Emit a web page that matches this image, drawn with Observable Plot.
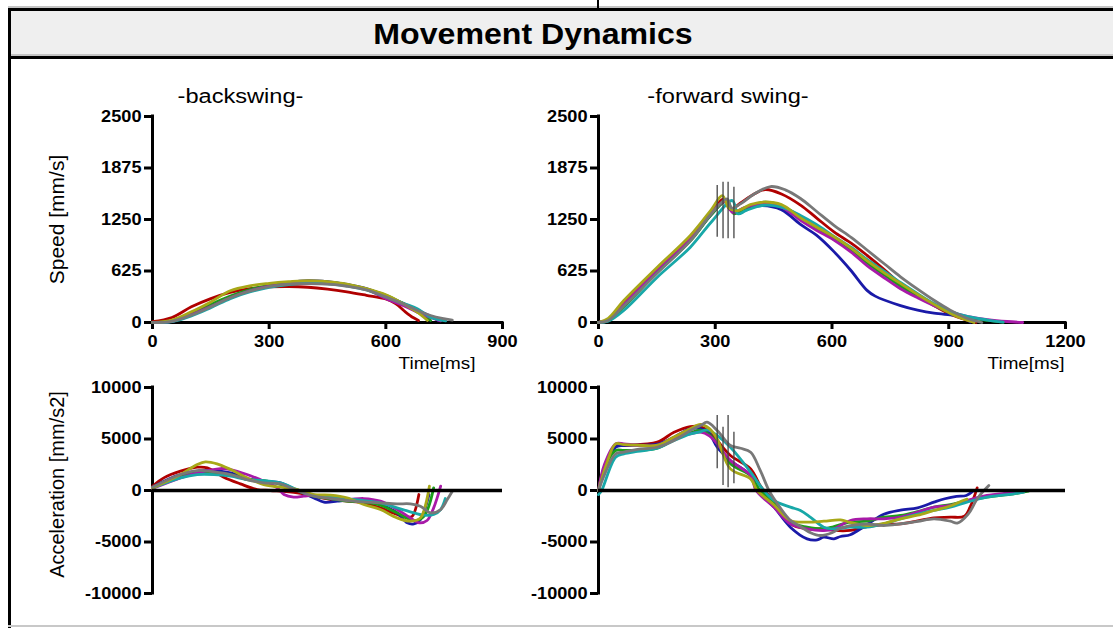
<!DOCTYPE html>
<html>
<head>
<meta charset="utf-8">
<script src="https://cdn.jsdelivr.net/npm/d3@7"></script>
<script src="https://cdn.jsdelivr.net/npm/@observablehq/plot@0.6"></script>
<style>
  body { margin: 0; background: #fff; }
  #root { position: relative; width: 1113px; height: 628px; overflow: hidden; font-family: "Liberation Sans", Arial, sans-serif; background: #fff; }
  .bar { position: absolute; left: 8px; top: 8px; width: 1120px; height: 51px; background: #efefef; border-top: 3px solid #000; border-bottom: 3px solid #000; box-sizing: border-box; }
  .barShadeTop { position: absolute; left: 8px; top: 6px; width: 1120px; height: 2px; background: #c4c4c4; }
  .barShadeBot { position: absolute; left: 8px; top: 54px; width: 1120px; height: 2px; background: #c4c4c4; }
  .title { position: absolute; left: 0; top: 8px; width: 1066px; height: 51px; line-height: 51px; text-align: center; font-weight: bold; font-size: 30px; color: #000; transform: scaleX(1.07); transform-origin: 533px 50%; }
  .frameL { position: absolute; left: 8px; top: 8px; width: 3px; height: 620px; background: #000; }
  .topTick { position: absolute; left: 597px; top: 0; width: 2px; height: 8px; background: #000; }
  .bottomLine { position: absolute; left: 8px; top: 625px; width: 1110px; height: 2px; background: #c8c8c8; }
  .panel { position: absolute; }
</style>
</head>
<body>
<div id="root">
  <div class="barShadeTop"></div>
  <div class="bar"></div>
  <div class="barShadeBot"></div>
  <div class="title">Movement Dynamics</div>
  <div class="frameL"></div>
  <div class="topTick"></div>
  <div class="bottomLine"></div>
  <div id="p1" class="panel" style="left:0px;top:60px"></div>
  <div id="p2" class="panel" style="left:510px;top:60px"></div>
  <div id="p3" class="panel" style="left:0px;top:375px"></div>
  <div id="p4" class="panel" style="left:510px;top:375px"></div>
</div>
<script>
// ---------- data ----------
const seriesNames = ["Trial 1", "Trial 2", "Trial 3", "Trial 4", "Trial 5", "Trial 6", "Trial 7"];
const seriesColors = ["#b00000", "#1a1aa8", "#1a9e1a", "#a81aa8", "#18a8a8", "#a8a818", "#787878"];

const speedTicks = [0, 625, 1250, 1875, 2500];
const accTicks = [-10000, -5000, 0, 5000, 10000];
const backTimeTicks = [0, 300, 600, 900];
const foreTimeTicks = [0, 300, 600, 900, 1200];

// backswing speed [time ms, speed mm/s], one list per trial (same order as seriesNames)
const backSpeed = [
  [[0,10],[50,60],[100,190],[150,290],[200,365],[250,410],[300,432],[350,437],[400,428],[450,405],[500,372],[550,330],[600,285],[625,230],[650,130],[670,60],[684,25]],
  [[0,0],[50,15],[100,100],[150,200],[200,300],[250,385],[300,440],[350,485],[400,508],[450,495],[500,462],[550,410],[600,320],[650,220],[700,110],[735,25]],
  [[0,0],[50,20],[100,110],[150,220],[200,320],[250,400],[300,450],[350,485],[400,500],[450,490],[500,460],[550,405],[600,330],[640,240],[680,130],[715,25]],
  [[0,0],[50,15],[100,95],[150,195],[200,300],[250,385],[300,440],[350,470],[400,488],[450,478],[500,450],[550,400],[600,290],[650,195],[681,126],[715,60],[741,20]],
  [[0,0],[50,10],[100,80],[150,180],[200,290],[250,370],[300,425],[350,460],[400,478],[450,470],[500,445],[550,395],[612,290],[650,225],[681,166],[715,65],[754,20]],
  [[0,0],[50,30],[100,130],[150,250],[200,385],[250,445],[300,475],[350,495],[400,508],[450,495],[500,465],[550,410],[600,335],[640,240],[680,128],[707,25]],
  [[0,0],[50,15],[100,90],[150,190],[200,300],[250,380],[300,435],[350,465],[400,472],[450,465],[500,440],[550,395],[612,287],[650,215],[681,146],[715,85],[745,50],[771,30]]
];

// forward swing speed [time ms, speed mm/s]
const foreSpeed = [
  [[0,0],[25,35],[65,230],[151,640],[236,1020],[290,1340],[322,1500],[338,1370],[365,1450],[400,1560],[429,1614],[470,1560],[519,1425],[560,1270],[605,1100],[650,960],[690,815],[735,640],[776,470],[820,330],[862,205],[904,100],[945,30],[970,0]],
  [[0,0],[25,25],[65,205],[151,620],[236,1000],[290,1310],[325,1465],[345,1345],[375,1385],[420,1420],[470,1370],[519,1190],[560,1060],[605,860],[647,640],[690,390],[711,320],[776,205],[820,150],[862,113],[904,92],[935,75],[955,5]],
  [[0,0],[25,20],[65,190],[151,610],[236,990],[290,1310],[330,1480],[348,1320],[375,1380],[424,1460],[470,1420],[519,1280],[560,1150],[605,1010],[650,870],[690,720],[735,575],[776,440],[820,320],[862,210],[904,120],[950,60],[1000,25],[1040,5]],
  [[0,0],[25,30],[65,220],[151,645],[236,1025],[290,1330],[325,1470],[345,1335],[375,1395],[420,1440],[470,1400],[519,1240],[560,1120],[605,1000],[650,850],[690,690],[735,540],[776,410],[820,300],[862,205],[904,130],[950,70],[1000,35],[1050,12],[1090,0]],
  [[0,0],[25,15],[65,146],[151,550],[236,914],[290,1220],[344,1480],[358,1320],[380,1360],[420,1420],[470,1400],[519,1300],[560,1190],[605,1045],[650,910],[690,765],[735,620],[776,485],[820,350],[862,230],[904,135],[950,70],[1000,30],[1040,5]],
  [[0,0],[25,50],[65,267],[151,671],[236,1056],[290,1370],[318,1540],[335,1390],[355,1355],[390,1430],[425,1462],[470,1430],[519,1270],[560,1160],[605,1040],[650,900],[690,750],[735,600],[776,475],[820,340],[862,220],[904,110],[940,40],[965,0]],
  [[0,0],[25,25],[65,200],[151,600],[236,990],[290,1320],[330,1500],[342,1390],[365,1440],[400,1560],[442,1650],[480,1610],[519,1505],[560,1350],[605,1180],[650,1030],[690,880],[735,710],[776,555],[820,405],[862,270],[904,150],[945,55],[985,0]]
];

// backswing acceleration [time ms, acceleration mm/s2]
const backAcc = [
  [[0,418],[29,1227],[72,1875],[115,2263],[141,2198],[183,1292],[226,645],[269,95],[303,0],[372,-229],[415,-552],[458,-876],[500,-1038],[543,-1200],[586,-1685],[629,-2330],[655,-2591],[668,-2494],[685,-391]],
  [[0,321],[72,1551],[158,1939],[201,1713],[243,1160],[286,904],[329,742],[372,0],[415,-714],[441,-1135],[475,-1038],[500,-941],[543,-1038],[586,-1361],[629,-2170],[655,-3141],[672,-3238],[689,-2818],[711,-391]],
  [[0,257],[72,1389],[132,1713],[201,1551],[243,1066],[286,968],[329,580],[372,0],[415,-552],[458,-779],[500,-1038],[543,-1103],[586,-1426],[629,-2170],[672,-2915],[698,-2494],[723,257]],
  [[0,192],[72,1227],[115,1713],[175,2133],[201,2036],[243,1551],[286,904],[321,257],[338,-391],[363,-649],[389,-552],[415,-455],[458,-714],[500,-876],[543,-779],[586,-1038],[629,-1847],[663,-2656],[685,-3141],[706,-2915],[723,-1685],[741,418]],
  [[0,257],[72,1227],[115,1551],[158,1551],[201,1389],[243,1066],[286,968],[329,742],[372,95],[415,-455],[458,-552],[500,-779],[543,-973],[586,-1200],[629,-1685],[672,-2170],[698,-2397],[723,-2332],[741,-1847],[753,-779]],
  [[0,257],[29,742],[72,1551],[115,2522],[136,2781],[166,2587],[201,2036],[243,1227],[286,580],[329,320],[372,95],[415,-391],[458,-455],[500,-714],[543,-1361],[586,-1847],[629,-2656],[663,-2977],[689,-2656],[712,418]],
  [[0,321],[72,1551],[115,1939],[158,1810],[201,1551],[243,1066],[286,742],[329,645],[355,257],[372,0],[415,-552],[458,-779],[500,-973],[543,-1103],[586,-1200],[629,-1297],[663,-1297],[689,-1523],[715,-2170],[741,-1847],[758,-876],[771,-68]]
];

// forward swing acceleration [time ms, acceleration mm/s2]
const foreAcc = [
  [[0,0],[15,2200],[44,4300],[65,4370],[151,4690],[194,5660],[236,6210],[262,6200],[285,5700],[305,4850],[339,3400],[391,2100],[415,500],[425,0],[451,-970],[493,-3240],[536,-3720],[579,-3720],[605,-3880],[647,-3880],[690,-3500],[733,-3300],[776,-3240],[820,-2950],[862,-2650],[904,-2590],[940,-2500],[955,-1600],[973,260]],
  [[0,0],[15,2000],[44,4200],[65,4370],[151,4500],[194,5178],[236,5987],[262,6000],[285,5500],[305,4207],[339,2900],[391,1456],[410,0],[451,-1618],[493,-3560],[536,-4693],[562,-4800],[579,-4531],[605,-4693],[622,-4466],[647,-4300],[690,-3300],[733,-2300],[776,-1900],[820,-1683],[862,-1133],[890,-800],[920,-560],[945,-485],[964,0]],
  [[0,0],[15,2200],[44,3883],[65,3883],[100,3900],[151,4100],[194,5000],[236,5600],[262,5850],[285,5400],[305,4600],[339,2589],[391,1456],[415,0],[451,-1133],[493,-3075],[536,-3560],[579,-3721],[605,-3495],[647,-3075],[690,-2978],[733,-2590],[776,-2427],[820,-2050],[862,-1618],[904,-1360],[947,-1000],[998,-647],[1067,-323],[1105,-65]],
  [[0,0],[15,2500],[44,4530],[65,4530],[100,4400],[151,4370],[194,5113],[236,5502],[262,5663],[285,5300],[305,4530],[339,2913],[391,1456],[405,0],[451,-1618],[493,-3236],[536,-3721],[579,-3883],[605,-3720],[647,-2913],[690,-2750],[733,-2750],[776,-2590],[820,-2100],[862,-1618],[904,-1456],[947,-971],[998,-485],[1067,-162],[1084,0]],
  [[0,-400],[8,0],[44,3236],[65,3560],[100,3800],[151,4100],[194,4854],[236,5502],[262,5700],[279,5890],[305,5340],[339,4207],[391,1780],[425,0],[451,-970],[493,-1618],[519,-1940],[545,-2600],[579,-3560],[605,-3721],[647,-3560],[690,-3560],[733,-3236],[776,-2750],[820,-2300],[862,-1940],[904,-1618],[947,-1133],[998,-647],[1067,-320],[1093,-160]],
  [[0,0],[20,2500],[44,4530],[65,4450],[100,4400],[151,4400],[194,5200],[236,6000],[262,6410],[285,6000],[305,5000],[339,2100],[391,1130],[408,0],[451,-1400],[493,-2910],[536,-3075],[579,-2980],[622,-2850],[647,-3100],[690,-3400],[733,-3200],[776,-2750],[820,-2400],[862,-1940],[904,-1500],[935,-1000],[947,-840]],
  [[0,0],[15,1500],[44,3560],[65,3720],[100,4000],[151,4200],[194,4850],[236,5825],[262,6300],[279,6630],[305,5825],[339,4370],[365,4100],[391,3720],[415,2000],[438,0],[451,-810],[493,-2900],[519,-3500],[545,-4100],[570,-4370],[600,-4100],[622,-3650],[647,-3400],[690,-3250],[733,-3400],[776,-3240],[820,-3000],[862,-2750],[904,-2980],[922,-3170],[950,-2300],[975,-700],[1003,480]]
];

// event markers in the forward swing (time, low and high end)
const markerTimes = [305, 320, 333, 348];
const speedMarkerLow = [1036, 1016, 1016, 1016];
const speedMarkerHigh = [1663, 1703, 1703, 1642];
const accMarkerLow = [2104, 485, 260, 647];
const accMarkerHigh = [7282, 6148, 7282, 5660];

// ---------- build ----------
const FONT = '"Liberation Sans", Arial, Helvetica, sans-serif';

function toRows(panel) {
  return panel.flatMap((pts, i) => pts.map(([t, v]) => ({series: seriesNames[i], t, v})));
}
function toMarkers(lo, hi) {
  return markerTimes.map((t, i) => ({t, lo: lo[i], hi: hi[i]}));
}
const fmt = d => String(d);

function stretchTexts(svg) {
  svg.querySelectorAll("text").forEach(t => {
    const tr = t.getAttribute("transform") || "";
    if (tr.includes("rotate")) return;
    const g = t.closest("g[aria-label]");
    const isTick = g && /tick label/.test(g.getAttribute("aria-label"));
    const k = isTick ? 1.1 : 1.18;
    const L = t.getComputedTextLength();
    if (L > 0) {
      t.setAttribute("textLength", (L * k).toFixed(1));
      t.setAttribute("lengthAdjust", "spacingAndGlyphs");
    }
  });
}

const commonStyle = {background: "transparent", overflow: "visible", fontFamily: FONT, color: "black"};
const lineOpts = {x: "t", y: "v", z: "series", stroke: "series", strokeWidth: 2.8, curve: "catmull-rom"};
const tickText = {tickFormat: fmt, tickSize: 8, tickPadding: 3, strokeWidth: 3, label: null, fontSize: 16.5, fontWeight: "bold"};

function speedPanel({data, xMax, xTicks, width, marginLeft, marginRight, subtitle, subDx, timeDx, ylabel, markers}) {
  return Plot.plot({
    width, height: 315, marginLeft, marginRight, marginTop: 56, marginBottom: 53,
    x: {domain: [0, xMax]},
    y: {domain: [0, 2500]},
    color: {domain: seriesNames, range: seriesColors},
    style: commonStyle,
    marks: [
      Plot.ruleX([0], {stroke: "black", strokeWidth: 3, strokeLinecap: "square"}),
      Plot.ruleY([0], {stroke: "black", strokeWidth: 3, strokeLinecap: "square"}),
      Plot.axisY({...tickText, ticks: speedTicks}),
      Plot.axisX({...tickText, ticks: xTicks, tickSize: 7, tickPadding: 6}),
      Plot.line(data, lineOpts),
      markers ? Plot.ruleX(markers, {x: "t", y1: "lo", y2: "hi", stroke: "#444", strokeWidth: 1.3}) : null,
      Plot.text([subtitle], {text: d => d, frameAnchor: "top", dx: subDx, dy: -20, lineAnchor: "middle", fontSize: 20}),
      ylabel ? Plot.text([ylabel], {text: d => d, frameAnchor: "left", dx: -95, rotate: -90, textAnchor: "middle", lineAnchor: "middle", fontSize: 21}) : null,
      Plot.text(["Time[ms]"], {text: d => d, frameAnchor: "bottom-right", dx: timeDx, dy: 41, textAnchor: "end", lineAnchor: "middle", fontSize: 16})
    ]
  });
}

function accPanel({data, xMax, width, marginLeft, marginRight, ylabel, markers}) {
  return Plot.plot({
    width, height: 253, marginLeft, marginRight, marginTop: 12, marginBottom: 35,
    x: {domain: [0, xMax], axis: null},
    y: {domain: [-10000, 10000]},
    color: {domain: seriesNames, range: seriesColors},
    style: commonStyle,
    marks: [
      Plot.ruleX([0], {stroke: "black", strokeWidth: 3, strokeLinecap: "square"}),
      Plot.axisY({...tickText, ticks: accTicks}),
      Plot.line(data, lineOpts),
      markers ? Plot.ruleX(markers, {x: "t", y1: "lo", y2: "hi", stroke: "#444", strokeWidth: 1.3}) : null,
      Plot.ruleY([0], {stroke: "black", strokeWidth: 3.5}),
      ylabel ? Plot.text([ylabel], {text: d => d, frameAnchor: "left", dx: -95, dy: -6, rotate: -90, textAnchor: "middle", lineAnchor: "middle", fontSize: 20}) : null
    ]
  });
}

const p1 = speedPanel({data: toRows(backSpeed), xMax: 900, xTicks: backTimeTicks, width: 510, marginLeft: 152, marginRight: 8,
  subtitle: "-backswing-", subDx: -87, timeDx: -27, ylabel: "Speed [mm/s]"});
const p2 = speedPanel({data: toRows(foreSpeed), xMax: 1200, xTicks: foreTimeTicks, width: 603, marginLeft: 88, marginRight: 48,
  subtitle: "-forward swing-", subDx: -104, timeDx: -1, ylabel: null, markers: toMarkers(speedMarkerLow, speedMarkerHigh)});
const p3 = accPanel({data: toRows(backAcc), xMax: 900, width: 510, marginLeft: 152, marginRight: 8, ylabel: "Acceleration [mm/s2]"});
const p4 = accPanel({data: toRows(foreAcc), xMax: 1200, width: 603, marginLeft: 88, marginRight: 48, ylabel: null,
  markers: toMarkers(accMarkerLow, accMarkerHigh)});

[[p1, "p1"], [p2, "p2"], [p3, "p3"], [p4, "p4"]].forEach(([svg, id]) => {
  document.getElementById(id).appendChild(svg);
  stretchTexts(svg);
});
</script>
</body>
</html>
